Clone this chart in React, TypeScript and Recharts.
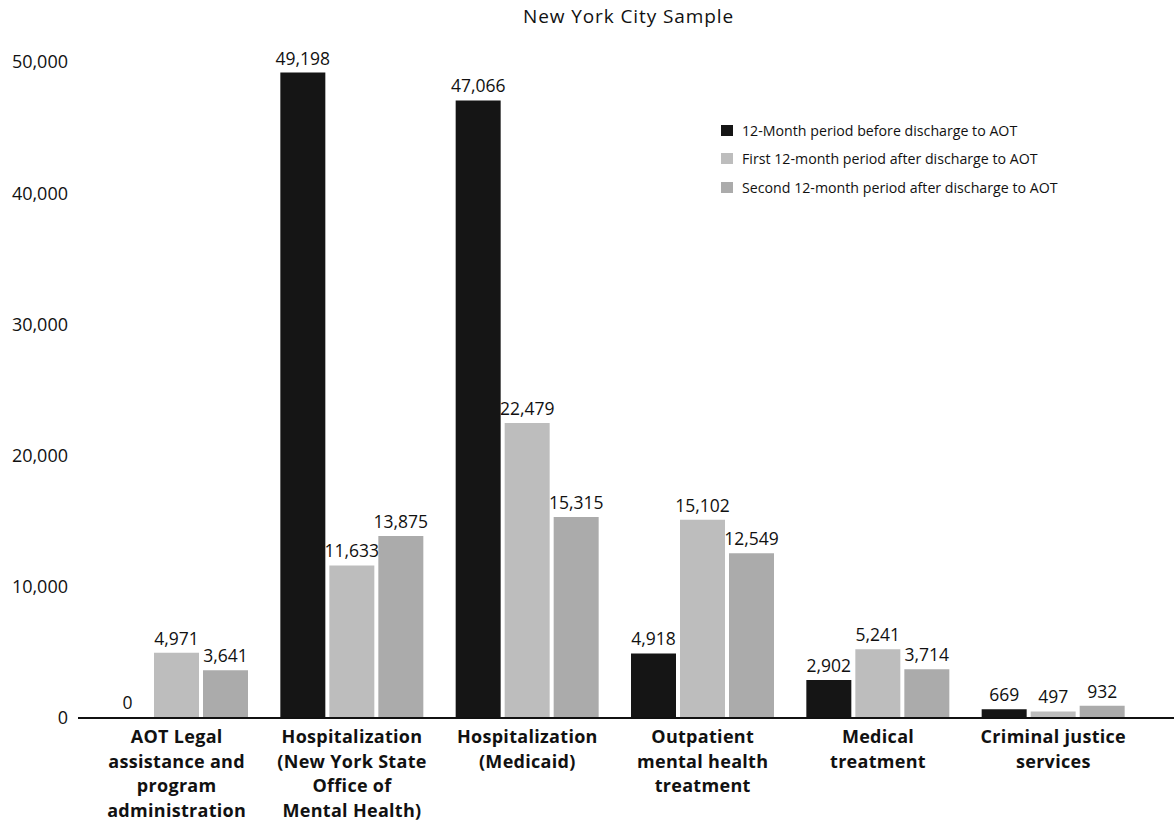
import React from "react";
import { BarChart, Bar, XAxis, YAxis, LabelList, Legend } from "recharts";

const categories = [
  "AOT Legal\nassistance and\nprogram\nadministration",
  "Hospitalization\n(New York State\nOffice of\nMental Health)",
  "Hospitalization\n(Medicaid)",
  "Outpatient\nmental health\ntreatment",
  "Medical\ntreatment",
  "Criminal justice\nservices",
];
const beforeAOT = [0, 49198, 47066, 4918, 2902, 669];
const firstAfter = [4971, 11633, 22479, 15102, 5241, 497];
const secondAfter = [3641, 13875, 15315, 12549, 3714, 932];
const yTicks = [0, 10000, 20000, 30000, 40000, 50000];
const seriesNames = [
  "12-Month period before discharge to AOT",
  "First 12-month period after discharge to AOT",
  "Second 12-month period after discharge to AOT",
];
const title = "New York City Sample";

const data = categories.map((name, i) => ({
  name,
  before: beforeAOT[i],
  first: firstAfter[i],
  second: secondAfter[i],
}));

const FONT = "'Open Sans', 'Noto Sans', sans-serif";
const colors = ["#151515", "#bdbdbd", "#ababab"];
const fmt = (v: any) => Number(v).toLocaleString("en-US");

const CategoryTick = (props: any) => {
  const { x, y, payload } = props;
  const lines = String(payload.value).split("\n");
  return (
    <text
      x={x}
      y={y}
      textAnchor="middle"
      fontFamily={FONT}
      fontSize={18}
      fontWeight={700}
      letterSpacing={0.3}
      fill="#111"
    >
      {lines.map((l, i) => (
        <tspan key={i} x={x} dy={i === 0 ? 17 : 24.6}>
          {l}
        </tspan>
      ))}
    </text>
  );
};

const LegendContent = () => (
  <div style={{ fontFamily: FONT, fontSize: 14.2, color: "#111" }}>
    {seriesNames.map((n, i) => (
      <div key={i} style={{ display: "flex", alignItems: "center", height: 28.5 }}>
        <span
          style={{
            display: "inline-block",
            width: 12,
            height: 11,
            background: colors[i],
            marginRight: 9,
          }}
        />
        <span>{n}</span>
      </div>
    ))}
  </div>
);

export default function App() {
  return (
    <div style={{ position: "absolute", left: 0, top: 0, width: 1174, height: 823, background: "#fff" }}>
      <div
        style={{
          position: "absolute",
          top: 3,
          left: 523,
          whiteSpace: "nowrap",
          fontFamily: FONT,
          fontSize: 19,
          letterSpacing: 0.9,
          color: "#111",
        }}
      >
        {title}
      </div>
      <BarChart
        width={1174}
        height={823}
        data={data}
        margin={{ top: 62, right: 0, bottom: 0, left: 0 }}
        barSize={45}
        barGap={4}
      >
        <XAxis
          dataKey="name"
          interval={0}
          tick={<CategoryTick />}
          tickLine={false}
          axisLine={{ stroke: "#111", strokeWidth: 2 }}
          padding={{ left: 11, right: 33 }}
          height={105}
        />
        <YAxis
          width={78}
          domain={[0, 50000]}
          ticks={yTicks}
          axisLine={false}
          tickLine={false}
          tickSize={4}
          tickMargin={6}
          tickFormatter={fmt}
          tick={{ fill: "#111", fontSize: 18, fontFamily: FONT }}
          interval={0}
        />
        <Legend
          layout="vertical"
          align="center"
          verticalAlign="middle"
          wrapperStyle={{ top: 116, left: 721, width: 440 }}
          content={<LegendContent />}
        />
        <Bar dataKey="before" fill={colors[0]} minPointSize={1} isAnimationActive={false}>
          <LabelList dataKey="before" position="top" offset={8} formatter={fmt} fill="#111" fontSize={17.5} fontFamily={FONT} />
        </Bar>
        <Bar dataKey="first" fill={colors[1]} isAnimationActive={false}>
          <LabelList dataKey="first" position="top" offset={8} formatter={fmt} fill="#111" fontSize={17.5} fontFamily={FONT} />
        </Bar>
        <Bar dataKey="second" fill={colors[2]} isAnimationActive={false}>
          <LabelList dataKey="second" position="top" offset={8} formatter={fmt} fill="#111" fontSize={17.5} fontFamily={FONT} />
        </Bar>
      </BarChart>
    </div>
  );
}
